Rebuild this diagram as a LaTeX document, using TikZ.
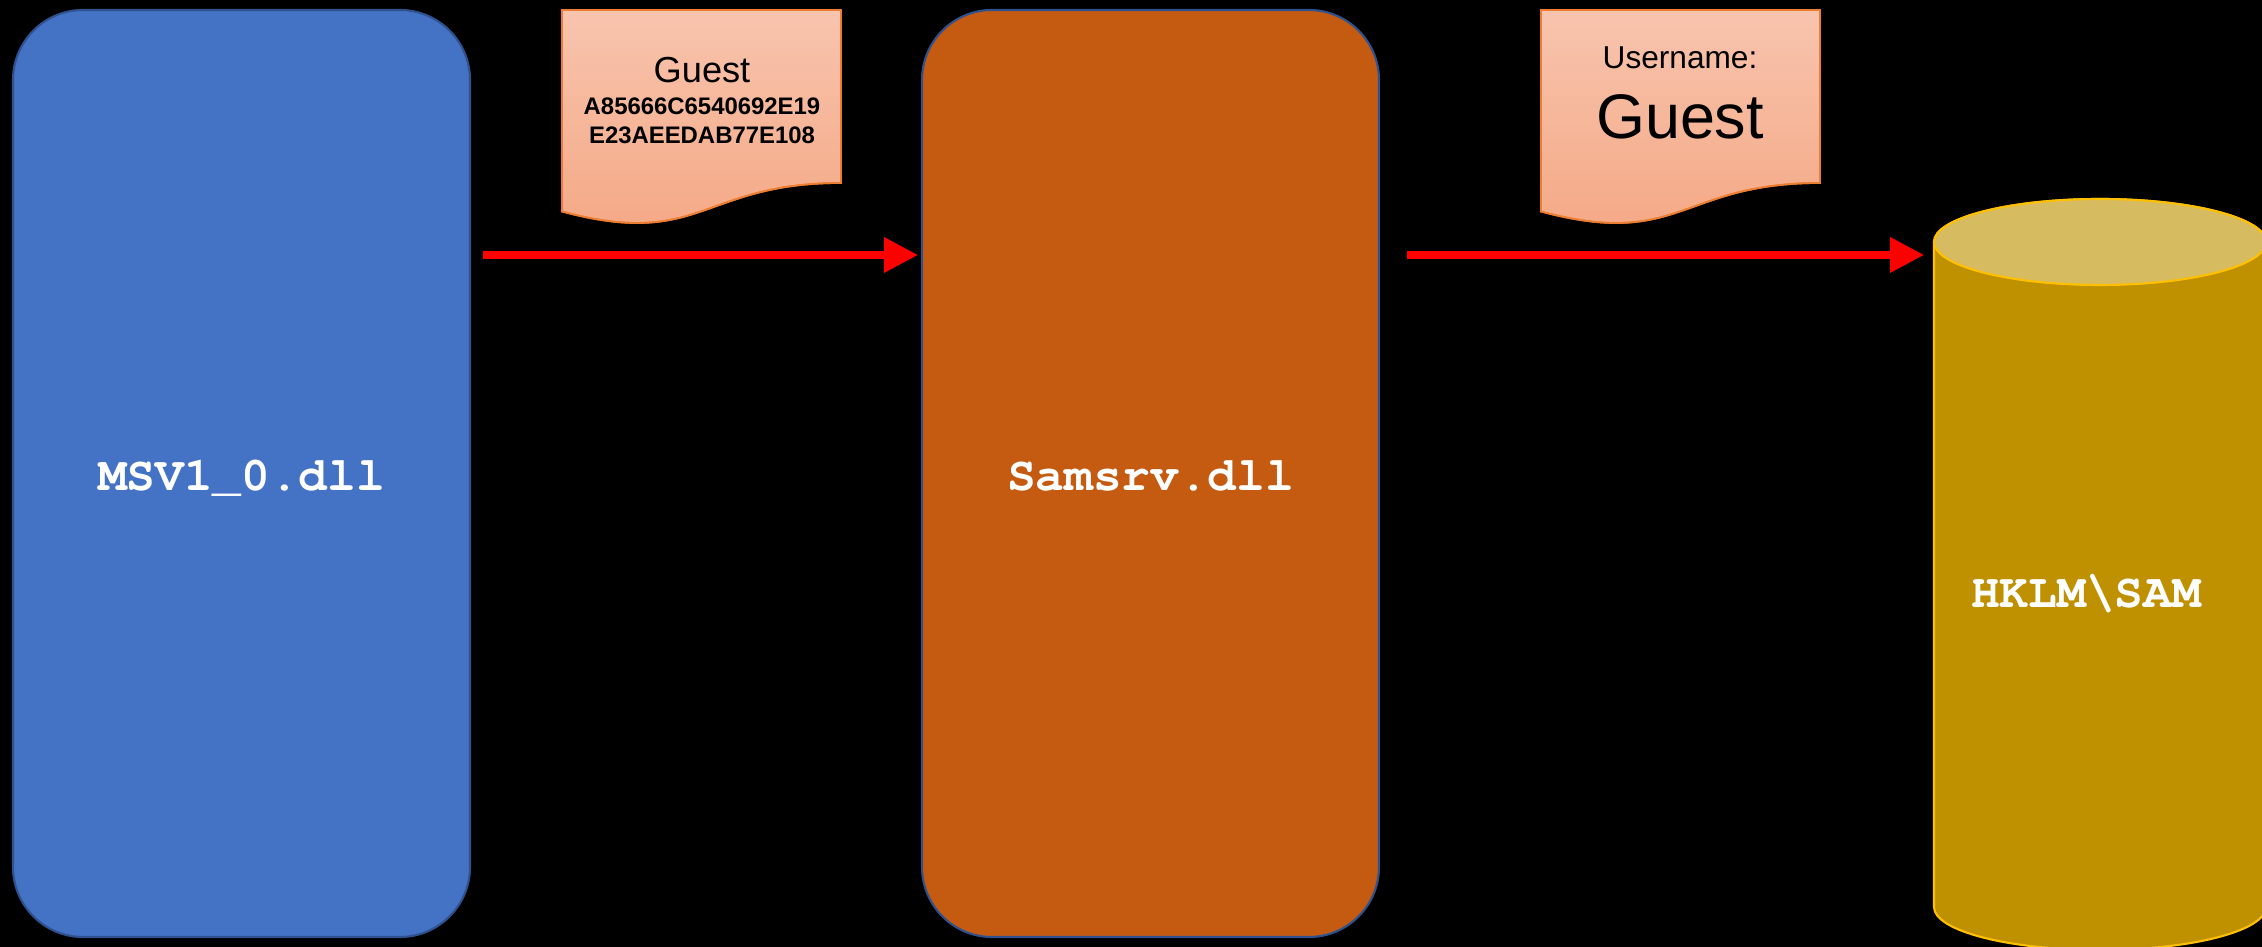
\documentclass[tikz,border=0pt]{standalone}
\usepackage{fontspec}
\setmainfont{Liberation Sans}
\setmonofont{TeX Gyre Cursor}
\usetikzlibrary{arrows.meta}

\definecolor{msvblue}{RGB}{68,114,196}
\definecolor{samorange}{RGB}{197,90,17}
\definecolor{edgeblue}{RGB}{47,82,143}
\definecolor{dbbody}{RGB}{191,144,0}
\definecolor{dbtop}{RGB}{214,187,97}
\definecolor{dbedge}{RGB}{255,192,0}
\definecolor{notetop}{RGB}{248,196,174}
\definecolor{notebot}{RGB}{244,167,131}
\definecolor{noteedge}{RGB}{237,125,49}

% paper note with a wavy bottom, left x as argument
\newcommand{\notepath}[1]{
  (#1,9.37) -- (#1+2.79,9.37) -- (#1+2.79,7.64)
  .. controls (#1+1.395,7.64) and (#1+1.395,6.98) .. (#1,7.355) -- cycle}

\begin{document}
\begin{tikzpicture}[
    dll/.style={rounded corners=0.7cm,draw=edgeblue,line width=0.6pt,
      minimum width=4.57cm,minimum height=9.27cm,text=white,
      text height=0.44cm,text depth=0.1cm,
      font=\ttfamily\bfseries\fontsize{13.6}{16}\selectfont},
    flow/.style={red,line width=2pt,-{Triangle[length=0.34cm,width=0.34cm]}},
    note/.style={draw=noteedge,line width=0.5pt,top color=notetop,bottom color=notebot},
    label/.style={inner sep=0pt,text=black}
  ]
  \fill (0,0) rectangle (22.62,9.47);
  \useasboundingbox (0,0) rectangle (22.62,9.47);

  % the two dlls
  \node[dll,fill=msvblue] (msv) at (2.415,4.735) {MSV1\_0.dll};
  \node[dll,fill=samorange] (samsrv) at (11.505,4.735) {Samsrv.dll};

  % the database
  \draw[draw=dbedge,fill=dbbody,line width=0.6pt] (19.34,7.05) -- (19.34,0.40)
    arc (180:360:1.66 and 0.43) -- (22.66,7.05) arc (0:180:1.66 and 0.43) -- cycle;
  \draw[draw=dbedge,fill=dbtop,line width=0.6pt] (21.00,7.05) ellipse (1.66 and 0.43);
  \node[text=white,font=\ttfamily\bfseries\fontsize{13.6}{16}\selectfont] (sam) at (20.86,3.53) {HKLM\textbackslash SAM};
  \coordinate (dbleft) at (19.34,6.92);

  % notes
  \shade[note] \notepath{5.62};
  \draw[noteedge,line width=0.5pt] \notepath{5.62};
  \node[label,font=\fontsize{10.3}{12}\selectfont] (guest) at (7.02,8.77) {Guest};
  \node[label,font=\bfseries\fontsize{6.8}{8.25}\selectfont,align=center] (hash) at (7.02,8.265)
    {A85666C6540692E19\\E23AEEDAB77E108};

  \shade[note] \notepath{15.41};
  \draw[noteedge,line width=0.5pt] \notepath{15.41};
  \node[label,font=\fontsize{9}{11}\selectfont] (uname) at (16.80,8.89) {Username:};
  \node[label,font=\fontsize{17.9}{21}\selectfont] (user) at (16.80,8.30) {Guest};

  % arrows
  \draw[flow] ([shift={(0.12,2.185)}]msv.east) -- ([shift={(-0.03,2.185)}]samsrv.west);
  \draw[flow] ([shift={(0.27,2.185)}]samsrv.east) -- ([xshift=-0.10cm]dbleft);
\end{tikzpicture}
\end{document}
